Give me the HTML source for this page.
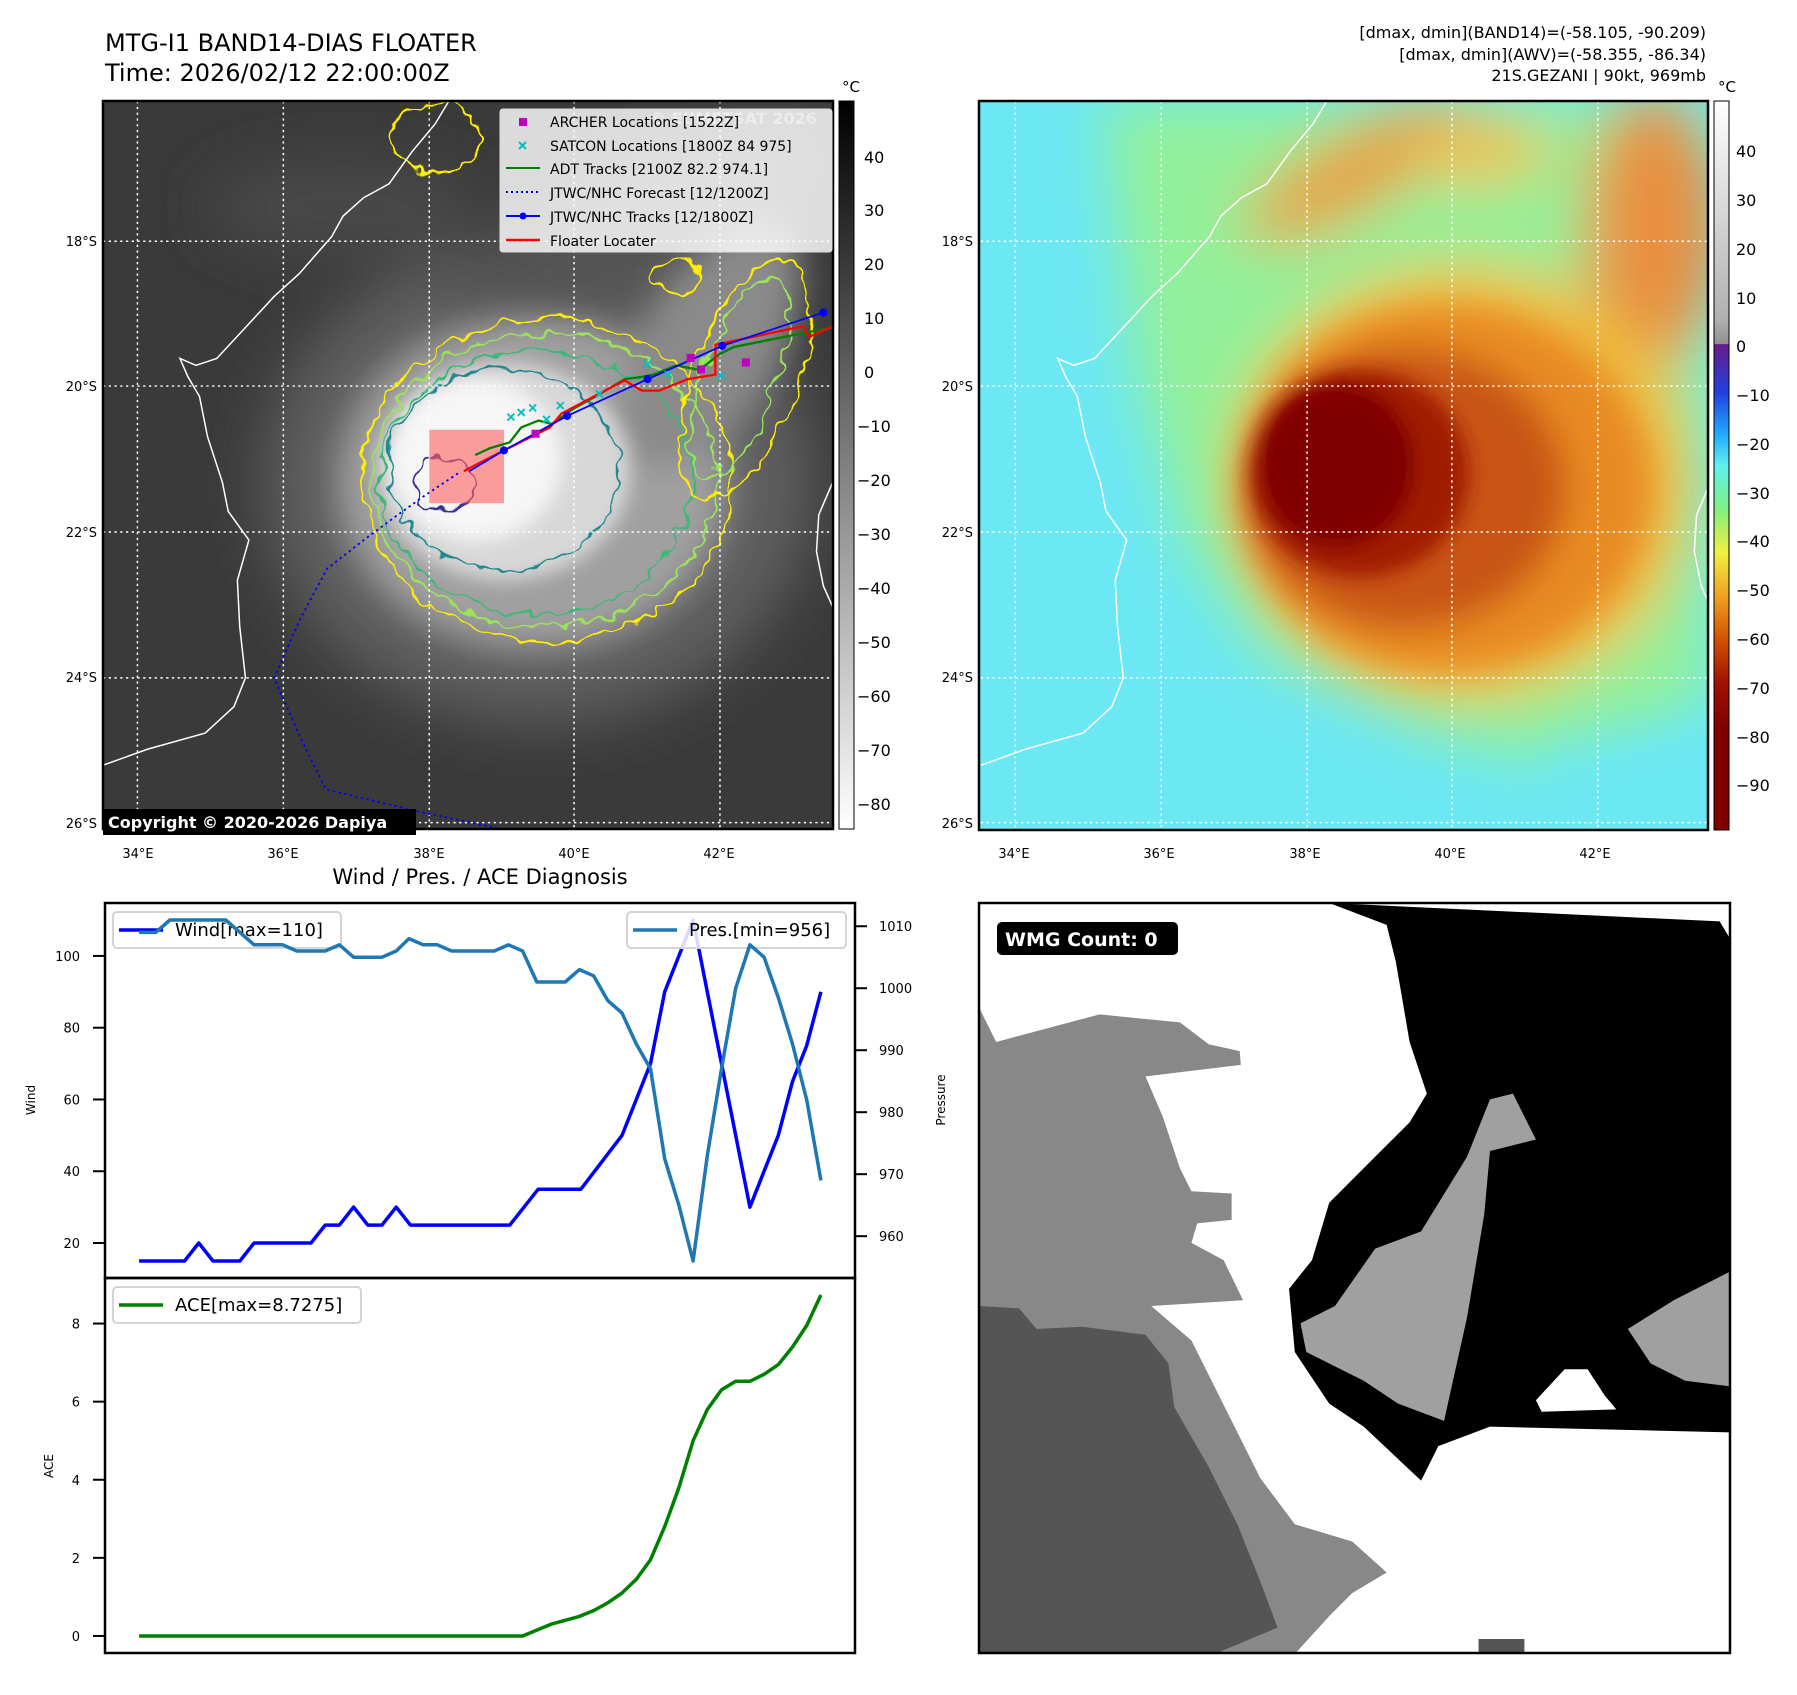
<!DOCTYPE html>
<html><head><meta charset="utf-8">
<style>
html,body{margin:0;padding:0;background:#fff;}
body{width:1797px;height:1690px;overflow:hidden;font-family:"Liberation Sans","DejaVu Sans",sans-serif;}
svg text{font-family:"DejaVu Sans","Liberation Sans",sans-serif;}
</style></head>
<body>
<svg id="fig" width="1797" height="1690" viewBox="0 0 1797 1690" xmlns="http://www.w3.org/2000/svg">
<defs>
  <clipPath id="clipL"><rect x="103" y="101" width="730" height="728"/></clipPath>
  <clipPath id="clipR"><rect x="979" y="101" width="729" height="729"/></clipPath>
  <clipPath id="clipW"><rect x="979" y="903" width="751" height="750"/></clipPath>
  <filter id="b8" x="-50%" y="-50%" width="200%" height="200%"><feGaussianBlur stdDeviation="8"/></filter>
  <filter id="b15" x="-50%" y="-50%" width="200%" height="200%"><feGaussianBlur stdDeviation="15"/></filter>
  <filter id="b25" x="-50%" y="-50%" width="200%" height="200%"><feGaussianBlur stdDeviation="25"/></filter>
  <filter id="wig" x="-20%" y="-20%" width="140%" height="140%">
    <feTurbulence type="fractalNoise" baseFrequency="0.06" numOctaves="2" seed="3" result="n"/>
    <feDisplacementMap in="SourceGraphic" in2="n" scale="18" xChannelSelector="R" yChannelSelector="G"/>
  </filter>
  <linearGradient id="cbL" x1="0" y1="0" x2="0" y2="1">
    <stop offset="0" stop-color="#000"/><stop offset="1" stop-color="#fff"/>
  </linearGradient>
  <linearGradient id="cbR" x1="0" y1="0" x2="0" y2="1">
    <stop offset="0" stop-color="#ffffff"/>
    <stop offset="0.30" stop-color="#b0b0b0"/>
    <stop offset="0.333" stop-color="#909090"/>
    <stop offset="0.334" stop-color="#6a1a8a"/>
    <stop offset="0.40" stop-color="#2040e0"/>
    <stop offset="0.46" stop-color="#20b0ff"/>
    <stop offset="0.50" stop-color="#60f0f0"/>
    <stop offset="0.56" stop-color="#80f080"/>
    <stop offset="0.62" stop-color="#f0f040"/>
    <stop offset="0.68" stop-color="#f0a020"/>
    <stop offset="0.74" stop-color="#d05000"/>
    <stop offset="0.80" stop-color="#a01000"/>
    <stop offset="0.86" stop-color="#800000"/>
    <stop offset="1" stop-color="#800000"/>
  </linearGradient>
</defs>

<text x="105" y="51" font-size="24" fill="#000">MTG-I1 BAND14-DIAS FLOATER</text>
<text x="105" y="81" font-size="24" fill="#000">Time: 2026/02/12 22:00:00Z</text>
<g font-size="16" fill="#000" text-anchor="end">
  <text x="1706" y="38">[dmax, dmin](BAND14)=(-58.105, -90.209)</text>
  <text x="1706" y="60">[dmax, dmin](AWV)=(-58.355, -86.34)</text>
  <text x="1706" y="81">21S.GEZANI | 90kt, 969mb</text>
</g>

<!-- LEFT MAP -->
<g clip-path="url(#clipL)">
  <rect x="103" y="101" width="730" height="728" fill="#3a3a3a"/>
  <g transform="translate(-1.6,0) scale(1.149)">
    <g filter="url(#b25)">
      <ellipse cx="470" cy="420" rx="240" ry="210" fill="#5e5e5e"/>
      <ellipse cx="560" cy="200" rx="180" ry="60" fill="#555" transform="rotate(-25 560 200)"/>
      <ellipse cx="300" cy="180" rx="120" ry="40" fill="#4a4a4a"/>
    </g>
    <g filter="url(#b15)">
      <ellipse cx="465" cy="420" rx="170" ry="145" fill="#a0a0a0"/>
      <ellipse cx="620" cy="300" rx="60" ry="120" fill="#8a8a8a" transform="rotate(30 620 300)"/>
    </g>
    <g filter="url(#b8)">
      <ellipse cx="440" cy="410" rx="110" ry="95" fill="#d8d8d8"/>
      <ellipse cx="415" cy="400" rx="75" ry="70" fill="#f6f6f6"/>
    </g>
    <g fill="none" stroke-width="1.8" filter="url(#wig)">
      <ellipse cx="478" cy="418" rx="162" ry="140" stroke="#ffee00"/>
      <ellipse cx="475" cy="418" rx="150" ry="128" stroke="#9be35a"/>
      <ellipse cx="468" cy="420" rx="136" ry="115" stroke="#3cb878"/>
      <ellipse cx="440" cy="408" rx="100" ry="88" stroke="#208890"/>
      <ellipse cx="650" cy="330" rx="45" ry="110" stroke="#ffee00" transform="rotate(20 650 330)"/>
      <ellipse cx="645" cy="330" rx="32" ry="92" stroke="#9be35a" transform="rotate(20 645 330)"/>
      <ellipse cx="380" cy="120" rx="40" ry="30" stroke="#ffee00"/>
      <ellipse cx="590" cy="240" rx="20" ry="14" stroke="#ffee00"/>
      <ellipse cx="388" cy="420" rx="26" ry="22" stroke="#353590"/>
    </g>
    <polyline fill="none" stroke="#fff" stroke-width="1.3" points="91,666 130,652 180,638 205,615 215,590 210,545 208,505 218,470 200,445 195,420 182,380 175,345 165,328 158,312 172,318 190,312 215,285 240,258 262,238 290,206 300,188 318,172 340,160 360,132 380,108 392,88"/>
    <polyline fill="none" stroke="#fff" stroke-width="1.3" points="726,420 714,448 712,480 718,510 726,528"/>
    <g stroke="#fff" stroke-width="1.3" stroke-dasharray="2,3">
      <line x1="121" y1="88" x2="121" y2="722"/><line x1="248" y1="88" x2="248" y2="722"/>
      <line x1="375" y1="88" x2="375" y2="722"/><line x1="501" y1="88" x2="501" y2="722"/>
      <line x1="628" y1="88" x2="628" y2="722"/>
      <line x1="91" y1="210" x2="726" y2="210"/><line x1="91" y1="336" x2="726" y2="336"/>
      <line x1="91" y1="463" x2="726" y2="463"/><line x1="91" y1="590" x2="726" y2="590"/>
      <line x1="91" y1="716" x2="726" y2="716"/>
    </g>
    <rect x="375" y="374" width="65" height="64" fill="#ff6060" fill-opacity="0.6"/>
    <polyline fill="none" stroke="#0000ee" stroke-width="1.6" stroke-dasharray="2,3" points="400,412 370,432 345,450 318,470 286,495 262,540 240,590 262,640 285,687 360,705 440,722"/>
    <polyline fill="none" stroke="#008000" stroke-width="2" points="415,396 428,390 445,385 455,372 470,366 482,369 500,356 520,345 545,330 560,328 570,326 590,318 610,322 628,308 640,302 700,290 726,285"/>
    <polyline fill="none" stroke="#ff0000" stroke-width="2" points="405,410 440,392 480,372 490,360 545,331 560,340 575,340 600,330 624,326 624,300 700,284 706,293 726,284"/>
    <polyline fill="none" stroke="#0000ff" stroke-width="1.5" points="410,410 440,392 495,362 565,330 630,301 718,272"/>
    <g fill="#0000ff">
      <circle cx="440" cy="392" r="3.5"/><circle cx="495" cy="362" r="3.5"/><circle cx="565" cy="330" r="3.5"/><circle cx="630" cy="301" r="3.5"/><circle cx="718" cy="272" r="3.5"/>
    </g>
    <g stroke="#00c0c0" stroke-width="1.6">
      <path d="M443,360 l6,6 m0,-6 l-6,6 M452,356 l6,6 m0,-6 l-6,6 M462,352 l6,6 m0,-6 l-6,6 M474,362 l6,6 m0,-6 l-6,6 M486,350 l6,6 m0,-6 l-6,6 M562,314 l6,6 m0,-6 l-6,6 M580,323 l6,6 m0,-6 l-6,6 M626,324 l6,6 m0,-6 l-6,6 M520,340 l6,6 m0,-6 l-6,6"/>
    </g>
    <g fill="#c000c0">
      <rect x="464" y="374" width="7" height="7"/><rect x="599" y="308" width="7" height="7"/><rect x="608" y="318" width="7" height="7"/><rect x="647" y="312" width="7" height="7"/>
    </g>
  </g>
  <text x="650" y="124" font-size="16" font-weight="bold" fill="#bbb" fill-opacity="0.7">© EUMETSAT 2026</text>
</g>
<rect x="103" y="101" width="730" height="728" fill="none" stroke="#000" stroke-width="2.5"/>

<g font-size="14" fill="#000">
  <rect x="500" y="109" width="332" height="143" fill="#fff" fill-opacity="0.82" stroke="#ddd" rx="3"/>
  <rect x="519" y="118" width="8" height="8" fill="#c000c0"/>
  <text x="550" y="127">ARCHER Locations [1522Z]</text>
  <path d="M519,142 l7,7 m0,-7 l-7,7" stroke="#00c0c0" stroke-width="2"/>
  <text x="550" y="151">SATCON Locations [1800Z 84 975]</text>
  <line x1="506" y1="168" x2="540" y2="168" stroke="#008000" stroke-width="2"/>
  <text x="550" y="174">ADT Tracks [2100Z 82.2 974.1]</text>
  <line x1="506" y1="192" x2="540" y2="192" stroke="#0000ee" stroke-width="2" stroke-dasharray="2,3"/>
  <text x="550" y="198">JTWC/NHC Forecast [12/1200Z]</text>
  <line x1="506" y1="216" x2="540" y2="216" stroke="#0000ff" stroke-width="2"/><circle cx="523" cy="216" r="3.5" fill="#0000ff"/>
  <text x="550" y="222">JTWC/NHC Tracks [12/1800Z]</text>
  <line x1="506" y1="240" x2="540" y2="240" stroke="#ff0000" stroke-width="2.5"/>
  <text x="550" y="246">Floater Locater</text>
</g>
<g>
  <rect x="103" y="809" width="313" height="26" fill="#000"/>
  <text x="108" y="828" font-size="16" font-weight="bold" fill="#fff">Copyright © 2020-2026 Dapiya</text>
</g>

<g font-size="13" fill="#000">
  <g text-anchor="end">
    <text x="97" y="246">18°S</text><text x="97" y="391">20°S</text><text x="97" y="537">22°S</text><text x="97" y="682">24°S</text><text x="97" y="828">26°S</text>
  </g>
  <g text-anchor="middle">
    <text x="138" y="858">34°E</text><text x="283" y="858">36°E</text><text x="429" y="858">38°E</text><text x="574" y="858">40°E</text><text x="719" y="858">42°E</text>
  </g>
</g>
<g>
  <rect x="839" y="101" width="15" height="728" fill="url(#cbL)" stroke="#000" stroke-width="1"/>
  <text x="851" y="92" font-size="15" text-anchor="middle">°C</text>
  <g font-size="16" fill="#000">
    <text x="864" y="163">40</text><text x="864" y="216">30</text><text x="864" y="270">20</text><text x="864" y="324">10</text><text x="864" y="378">0</text>
    <text x="857" y="432">−10</text><text x="857" y="486">−20</text><text x="857" y="540">−30</text><text x="857" y="594">−40</text><text x="857" y="648">−50</text><text x="857" y="702">−60</text><text x="857" y="756">−70</text><text x="857" y="810">−80</text>
  </g>
</g>

<!-- RIGHT MAP -->
<g clip-path="url(#clipR)">
  <rect x="979" y="101" width="729" height="729" fill="#6ce8f4"/>
  <g transform="translate(-1.6,0) scale(1.149)">
    <g filter="url(#b25)">
      <polygon points="960,88 1489,88 1489,600 1420,690 1250,640 1100,570 1030,470 990,330 975,200" fill="#92f09a"/>
      <ellipse cx="1180" cy="150" rx="110" ry="35" fill="#e8a040" transform="rotate(-30 1180 150)"/>
      <ellipse cx="1440" cy="200" rx="60" ry="120" fill="#e89040"/>
      <ellipse cx="1290" cy="130" rx="60" ry="30" fill="#f0c050"/>
      <ellipse cx="1275" cy="420" rx="200" ry="190" fill="#f0c040"/>
    </g>
    <g filter="url(#b15)">
      <ellipse cx="1260" cy="425" rx="180" ry="160" fill="#e88a22"/>
      <ellipse cx="1225" cy="425" rx="140" ry="122" fill="#c85412"/>
    </g>
    <g filter="url(#b8)">
      <ellipse cx="1185" cy="412" rx="95" ry="90" fill="#a01a00"/>
      <ellipse cx="1165" cy="405" rx="68" ry="72" fill="#800000"/>
    </g>
    <g filter="url(#b25)">
      <ellipse cx="1450" cy="690" rx="120" ry="60" fill="#6ce8f4"/>
    </g>
    <g transform="translate(764,0)">
      <polyline fill="none" stroke="#fff" stroke-width="1.3" points="91,666 130,652 180,638 205,615 215,590 210,545 208,505 218,470 200,445 195,420 182,380 175,345 165,328 158,312 172,318 190,312 215,285 240,258 262,238 290,206 300,188 318,172 340,160 360,132 380,108 392,88"/>
      <polyline fill="none" stroke="#fff" stroke-width="1.3" points="726,420 714,448 712,480 718,510 726,528"/>
      <g stroke="#fff" stroke-width="1.3" stroke-dasharray="2,3">
        <line x1="121" y1="88" x2="121" y2="722"/><line x1="248" y1="88" x2="248" y2="722"/>
        <line x1="375" y1="88" x2="375" y2="722"/><line x1="501" y1="88" x2="501" y2="722"/>
        <line x1="628" y1="88" x2="628" y2="722"/>
        <line x1="91" y1="210" x2="726" y2="210"/><line x1="91" y1="336" x2="726" y2="336"/>
        <line x1="91" y1="463" x2="726" y2="463"/><line x1="91" y1="590" x2="726" y2="590"/>
        <line x1="91" y1="716" x2="726" y2="716"/>
      </g>
    </g>
  </g>
</g>
<rect x="979" y="101" width="729" height="729" fill="none" stroke="#000" stroke-width="2.5"/>
<g font-size="13" fill="#000">
  <g text-anchor="end">
    <text x="973" y="246">18°S</text><text x="973" y="391">20°S</text><text x="973" y="537">22°S</text><text x="973" y="682">24°S</text><text x="973" y="828">26°S</text>
  </g>
  <g text-anchor="middle">
    <text x="1014" y="858">34°E</text><text x="1159" y="858">36°E</text><text x="1305" y="858">38°E</text><text x="1450" y="858">40°E</text><text x="1595" y="858">42°E</text>
  </g>
</g>
<g>
  <rect x="1714" y="101" width="15" height="729" fill="url(#cbR)" stroke="#000" stroke-width="1"/>
  <text x="1727" y="92" font-size="15" text-anchor="middle">°C</text>
  <g font-size="16" fill="#000">
    <text x="1736" y="157">40</text><text x="1736" y="206">30</text><text x="1736" y="255">20</text><text x="1736" y="304">10</text><text x="1736" y="352">0</text>
    <text x="1736" y="401">−10</text><text x="1736" y="450">−20</text><text x="1736" y="499">−30</text><text x="1736" y="547">−40</text><text x="1736" y="596">−50</text><text x="1736" y="645">−60</text><text x="1736" y="694">−70</text><text x="1736" y="743">−80</text><text x="1736" y="791">−90</text>
  </g>
</g>

<!-- WMG panel -->
<g clip-path="url(#clipW)">
  <rect x="979" y="903" width="751" height="750" fill="#fff"/>
  <g transform="translate(979,903) scale(1.1483) translate(-855,-789)">
    <polygon fill="#888" points="855,880 870,910 960,886 1030,893 1055,912 1082,918 1083,930 1000,940 1015,975 1030,1020 1040,1040 1075,1042 1075,1065 1045,1068 1040,1085 1068,1100 1085,1135 1005,1140 1040,1170 1060,1210 1100,1290 1130,1330 1180,1345 1210,1372 1180,1390 1160,1410 1130,1443 855,1443"/>
    <polygon fill="#555" points="855,1140 890,1142 905,1160 945,1158 1000,1165 1020,1190 1025,1228 1055,1280 1080,1330 1100,1380 1115,1420 1060,1443 855,1443"/>
    <polygon fill="#555" points="1290,1430 1330,1430 1330,1443 1290,1443"/>
    <polygon fill="#000" points="1160,789 1500,805 1509,820 1509,1250 1300,1245 1255,1262 1240,1292 1190,1245 1160,1225 1130,1180 1125,1125 1145,1100 1160,1050 1200,1010 1230,980 1245,955 1230,910 1218,840 1210,808"/>
    <polygon fill="#a0a0a0" points="1135,1155 1165,1140 1200,1090 1240,1075 1280,1010 1300,960 1320,955 1340,995 1300,1005 1295,1060 1280,1150 1260,1240 1220,1225 1190,1205 1140,1180"/>
    <polygon fill="#a0a0a0" points="1420,1160 1460,1135 1509,1110 1509,1210 1470,1205 1440,1190"/>
    <polygon fill="#fff" points="1340,1222 1365,1195 1385,1195 1400,1218 1410,1230 1345,1232"/>
  </g>
</g>
<rect x="979" y="903" width="751" height="750" fill="none" stroke="#000" stroke-width="2.5"/>
<g>
  <rect x="997" y="922" width="181" height="33" rx="5" fill="#000"/>
  <text x="1005" y="946" font-size="19" font-weight="bold" fill="#fff">WMG Count: 0</text>
</g>

<text x="480" y="884" font-size="21" text-anchor="middle" fill="#000">Wind / Pres. / ACE Diagnosis</text>
<g id="chart"></g>
</svg>

<script>
const windT = [0,3.2,4.2,5.2,7.1,8.1,12.1,13.1,14.1,15.1,16.1,17.1,18.1,19.1,26.1,28.1,31.1,34,35,36,37,38,39,40,41,42,43,44,45,46,47,48];
const windV = [15,15,20,15,15,20,20,25,25,30,25,25,30,25,25,35,35,50,60,70,90,100,110,90,70,50,30,40,50,65,75,90];
const presT = [0,1.17,2.17,6.1,8.1,10.1,11.1,13.1,14.1,15.1,17.1,18.1,19,20,21,22,25,26,27,28,30,31,32,33,34,35,36,37,38,39,40,41,42,43,44,45,46,47,48];
const presV = [1009,1009,1011,1011,1007,1007,1006,1006,1007,1005,1005,1006,1008,1007,1007,1006,1006,1007,1006,1001,1001,1003,1002,998,996,991,987,972.5,965,956,973,987,1000,1007,1005,998.5,991,982,969];
const aceT = [0,27,28,29,30,31,32,33,34,35,36,37,38,39,40,41,42,43,44,45,46,47,48];
const aceV = [0,0,0.15,0.3,0.4,0.5,0.65,0.85,1.1,1.45,1.95,2.8,3.8,5.0,5.8,6.3,6.52,6.52,6.7,6.95,7.4,7.95,8.73];
const windTicks = [20,40,60,80,100];
const presTicks = [960,970,980,990,1000,1010];
const aceTicks = [0,2,4,6,8];

const NS='http://www.w3.org/2000/svg';
const g=document.getElementById('chart');
function mk(tag,attrs,parent){const e=document.createElementNS(NS,tag);for(const k in attrs)e.setAttribute(k,attrs[k]);(parent||g).appendChild(e);return e;}
const X0=105,X1=855,Y0=903,YM=1278,Y1=1653;
const tmin=-2.4,tmax=50.4;
function xs(t){return X0+(t-tmin)/(tmax-tmin)*(X1-X0);}
function rng(arr){const lo=Math.min(...arr),hi=Math.max(...arr),m=(hi-lo)*0.05;return [lo-m,hi+m];}
const wr=rng(windV),pr=rng(presV),ar=rng(aceV);
function yw(v){return YM-(v-wr[0])/(wr[1]-wr[0])*(YM-Y0);}
function yp(v){return YM-(v-pr[0])/(pr[1]-pr[0])*(YM-Y0);}
function ya(v){return Y1-(v-ar[0])/(ar[1]-ar[0])*(Y1-YM);}
function pts(T,V,f){return T.map((t,i)=>xs(t).toFixed(1)+','+f(V[i]).toFixed(1)).join(' ');}

windTicks.forEach(v=>{const y=yw(v);
  const l=mk('line',{x1:93,x2:105,y1:y,y2:y,stroke:'#000','stroke-width':2});
  
  
  const t=mk('text',{x:80,y:y+5,'font-size':13,'text-anchor':'end'});t.textContent=v;
  
  
});
presTicks.forEach(v=>{const y=yp(v);
  const l=mk('line',{x1:855,x2:867,y1:y,y2:y,stroke:'#000','stroke-width':2});
  
  
  const t=mk('text',{x:879,y:y+5,'font-size':13});t.textContent=v;
  
  
});
aceTicks.forEach(v=>{const y=ya(v);
  const l=mk('line',{x1:93,x2:105,y1:y,y2:y,stroke:'#000','stroke-width':2});
  
  
  const t=mk('text',{x:80,y:y+5,'font-size':13,'text-anchor':'end'});t.textContent=v;
  
  
});
let t1=mk('text',{x:35,y:1100,'font-size':12,'text-anchor':'middle',transform:'rotate(-90 35 1100)'});t1.textContent='Wind';


let t2=mk('text',{x:945,y:1100,'font-size':12,'text-anchor':'middle',transform:'rotate(-90 945 1100)'});t2.textContent='Pressure';


let t3=mk('text',{x:53,y:1466,'font-size':12,'text-anchor':'middle',transform:'rotate(-90 53 1466)'});t3.textContent='ACE';



function legend(x,y,w,color,label,name){
  const r=mk('rect',{x:x,y:y,width:w,height:36,rx:4,fill:'#fff','fill-opacity':0.85,stroke:'#d4d4d4','stroke-width':2});
  
  
  mk('line',{x1:x+6,x2:x+50,y1:y+18,y2:y+18,stroke:color,'stroke-width':3.5});
  const t=mk('text',{x:x+62,y:y+24,'font-size':18});t.textContent=label;
  
  
}
legend(113,912,228,'#0000ff','Wind[max=110]','wind-legend');
const wl=mk('polyline',{points:pts(windT,windV,yw),fill:'none',stroke:'#0000ff','stroke-width':3.5,'stroke-linejoin':'round'});


legend(627,912,219,'#1f77b4','Pres.[min=956]','pressure-legend');
const pl=mk('polyline',{points:pts(presT,presV,yp),fill:'none',stroke:'#1f77b4','stroke-width':3.5,'stroke-linejoin':'round'});


legend(113,1287,248,'#008000','ACE[max=8.7275]','ace-legend');
const al=mk('polyline',{points:pts(aceT,aceV,ya),fill:'none',stroke:'#008000','stroke-width':3.5,'stroke-linejoin':'round'});


mk('rect',{x:X0,y:Y0,width:X1-X0,height:YM-Y0,fill:'none',stroke:'#000','stroke-width':2.5});
mk('rect',{x:X0,y:YM,width:X1-X0,height:Y1-YM,fill:'none',stroke:'#000','stroke-width':2.5});
</script>
</body></html>
